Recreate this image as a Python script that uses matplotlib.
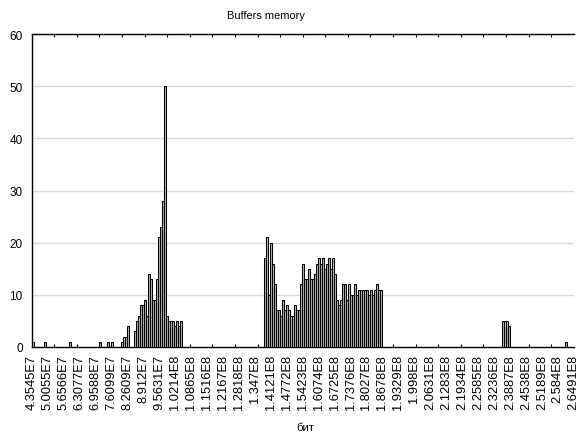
import numpy as np
import matplotlib
matplotlib.use("Agg")
import matplotlib.pyplot as plt
from matplotlib.ticker import FixedLocator

plt.rcParams['font.family'] = ['Liberation Sans', 'DejaVu Sans']

# ---- data ----
title = "Buffers memory"
x_label = "бит"
tick_labels = ['4.3545E7', '5.0055E7', '5.6566E7', '6.3077E7', '6.9588E7', '7.6099E7',
               '8.2609E7', '8.912E7', '9.5631E7', '1.0214E8', '1.0865E8', '1.1516E8',
               '1.2167E8', '1.2818E8', '1.347E8', '1.4121E8', '1.4772E8', '1.5423E8',
               '1.6074E8', '1.6725E8', '1.7376E8', '1.8027E8', '1.8678E8', '1.9329E8',
               '1.998E8', '2.0631E8', '2.1283E8', '2.1934E8', '2.2585E8', '2.3236E8',
               '2.3887E8', '2.4538E8', '2.5189E8', '2.584E8', '2.6491E8']
bin_width = 8.138e5

isolated_starts = [4.3545e7, 4.837e7, 5.878e7, 7.103e7, 7.450e7, 7.593e7, 2.6156e8]
isolated_counts = [1, 1, 1, 1, 1, 1, 1]

group_a_start = 8.002e7
group_a_counts = [1, 2, 2, 4]

cluster1_start = 8.545e7
cluster1_counts = [3, 5, 6, 8, 8, 9, 6, 14, 13, 9, 9, 13, 21, 23, 28, 50,
                   6, 5, 5, 5, 4, 5, 4, 5]

cluster2_start = 1.3854e8
cluster2_counts = [17, 21, 10, 20, 16, 12, 7, 7, 6, 9, 7, 8, 7, 6, 6, 8, 7, 7, 12, 16,
                   13, 13, 15, 13, 13, 14, 16, 17, 16, 17, 15, 16, 17, 15, 17, 14, 9, 8, 9, 12,
                   12, 9, 12, 10, 10, 12, 10, 11, 11, 11, 11, 11, 10, 11, 10, 11, 12, 11, 11]

cluster3_start = 2.3575e8
cluster3_counts = [5, 5, 5, 4]

y_ticks = [0, 10, 20, 30, 40, 50, 60]

# ---- assemble bars ----
lefts = list(isolated_starts)
heights = list(isolated_counts)
for start, counts in [(group_a_start, group_a_counts), (cluster1_start, cluster1_counts),
                      (cluster2_start, cluster2_counts), (cluster3_start, cluster3_counts)]:
    for i, c in enumerate(counts):
        lefts.append(start + i * bin_width)
        heights.append(c)

tick_values = [float(t) for t in tick_labels]

fig = plt.figure(figsize=(5.8, 4.39), dpi=100)
ax = fig.add_axes([31.7 / 580, 1 - 348 / 439, (573.7 - 31.7) / 580, (348 - 35) / 439])

ax.bar(lefts, heights, width=bin_width, align='edge', facecolor='#b4b4b4',
       edgecolor='black', linewidth=0.75, zorder=3)

ax.set_xlim(tick_values[0], tick_values[-1])
ax.set_ylim(0, 60)

ax.set_xticks(tick_values)
ax.set_xticklabels(tick_labels, rotation=90, fontsize=9.3, va='top', ha='center')
ax.tick_params(axis='x', which='major', length=0, pad=5)
ax.xaxis.set_minor_locator(FixedLocator(np.linspace(tick_values[0], tick_values[-1], 25)))
ax.tick_params(axis='x', which='minor', direction='in', length=2.5, width=0.8,
               top=True, bottom=True, color='black')

ax.set_yticks(y_ticks)
ax.set_yticklabels([str(v) for v in y_ticks], fontsize=8.5)
ax.tick_params(axis='y', length=0, pad=6.5)

ax.yaxis.grid(True, color='#d8d8d8', linewidth=1.0, zorder=0)
ax.set_axisbelow(True)

for s in ['left', 'bottom', 'top']:
    ax.spines[s].set_color('black')
    ax.spines[s].set_linewidth(1.0)
ax.spines['right'].set_visible(False)

fig.text(266 / 580, 1 - 15.7 / 439, title, ha='center', va='center', fontsize=7.9)
fig.text(305 / 580, 1 - 428 / 439, x_label, ha='center', va='center', fontsize=8.2)

fig.savefig("out.png", dpi=100)
